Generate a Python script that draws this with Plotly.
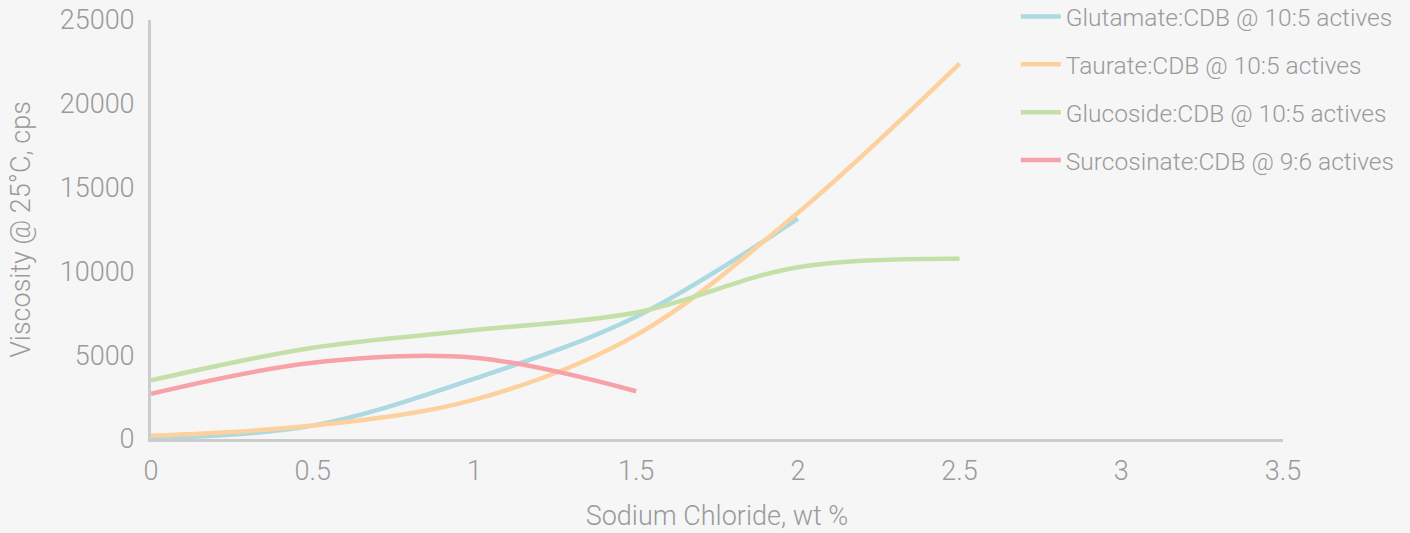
import plotly.graph_objects as go

glutamate_x = [0, 0.5, 1, 1.5, 2]
glutamate_y = [50, 800, 3600, 7300, 13150]

taurate_x = [0, 0.5, 1, 1.5, 2, 2.5]
taurate_y = [200, 800, 2350, 6200, 13500, 22400]

glucoside_x = [0, 0.5, 1, 1.5, 2, 2.5]
glucoside_y = [3500, 5450, 6500, 7550, 10250, 10750]

surcosinate_x = [0, 0.5, 1, 1.5]
surcosinate_y = [2700, 4550, 4850, 2850]

names = ["Glutamate:CDB @ 10:5 actives", "Taurate:CDB @ 10:5 actives",
         "Glucoside:CDB @ 10:5 actives", "Surcosinate:CDB @ 9:6 actives"]
colors = ["#acd9e2", "#fdd19d", "#c5dfa8", "#f6a2a8"]
series = [(glutamate_x, glutamate_y), (taurate_x, taurate_y),
          (glucoside_x, glucoside_y), (surcosinate_x, surcosinate_y)]

x_ticks = [0, 0.5, 1, 1.5, 2, 2.5, 3, 3.5]
x_ticktext = ["0", "0.5", "1", "1.5", "2", "2.5", "3", "3.5"]
y_ticks = [0, 5000, 10000, 15000, 20000, 25000]
y_ticktext = ["0", "5000", "10000", "15000", "20000", "25000"]

FONT = "Roboto"
GRAY = "#9a9a9a"

fig = go.Figure()
for i, ((xs, ys), name, col) in enumerate(zip(series, names, colors)):
    fig.add_trace(go.Scatter(
        x=xs, y=ys, name=name, mode="lines",
        line=dict(color=col, width=4.5, shape="spline", smoothing=1.0),
        legendgroup=f"g{i}",
    ))

fig.update_layout(
    width=1410, height=533,
    margin=dict(l=151, r=127, t=20, b=94, autoexpand=False),
    paper_bgcolor="#f6f6f6",
    plot_bgcolor="rgba(0,0,0,0)",
    font=dict(family=FONT, color=GRAY, size=24, weight=300),
    showlegend=True,
    legend=dict(
        x=0.764, y=1.062, xanchor="left", yanchor="top",
        bgcolor="rgba(0,0,0,0)",
        font=dict(family=FONT, size=24.5, color=GRAY, weight=300),
        tracegroupgap=13,
        itemwidth=40,
    ),
    xaxis=dict(
        range=[0, 3.5], tickvals=x_ticks, ticktext=x_ticktext,
        showgrid=False, zeroline=False,
        showline=True, linecolor="#cccccc", linewidth=3,
        ticks="", ticklabelstandoff=6,
        tickfont=dict(size=27, color=GRAY, family=FONT, weight=300),
        title=dict(text="Sodium Chloride, wt %", standoff=20,
                   font=dict(size=27, color=GRAY, family=FONT, weight=300)),
    ),
    yaxis=dict(
        range=[0, 25000], tickvals=y_ticks, ticktext=y_ticktext,
        showgrid=False, zeroline=False,
        showline=True, linecolor="#cccccc", linewidth=3,
        ticks="", ticklabelstandoff=8,
        tickfont=dict(size=27, color=GRAY, family=FONT, weight=300),
        title=dict(text="Viscosity @ 25°C, cps", standoff=22,
                   font=dict(size=27, color=GRAY, family=FONT, weight=300)),
    ),
)

fig.write_html(
    "out.html",
    config={"displayModeBar": False},
    post_script="document.body.style.margin='0';document.body.style.background='#f6f6f6';",
)
